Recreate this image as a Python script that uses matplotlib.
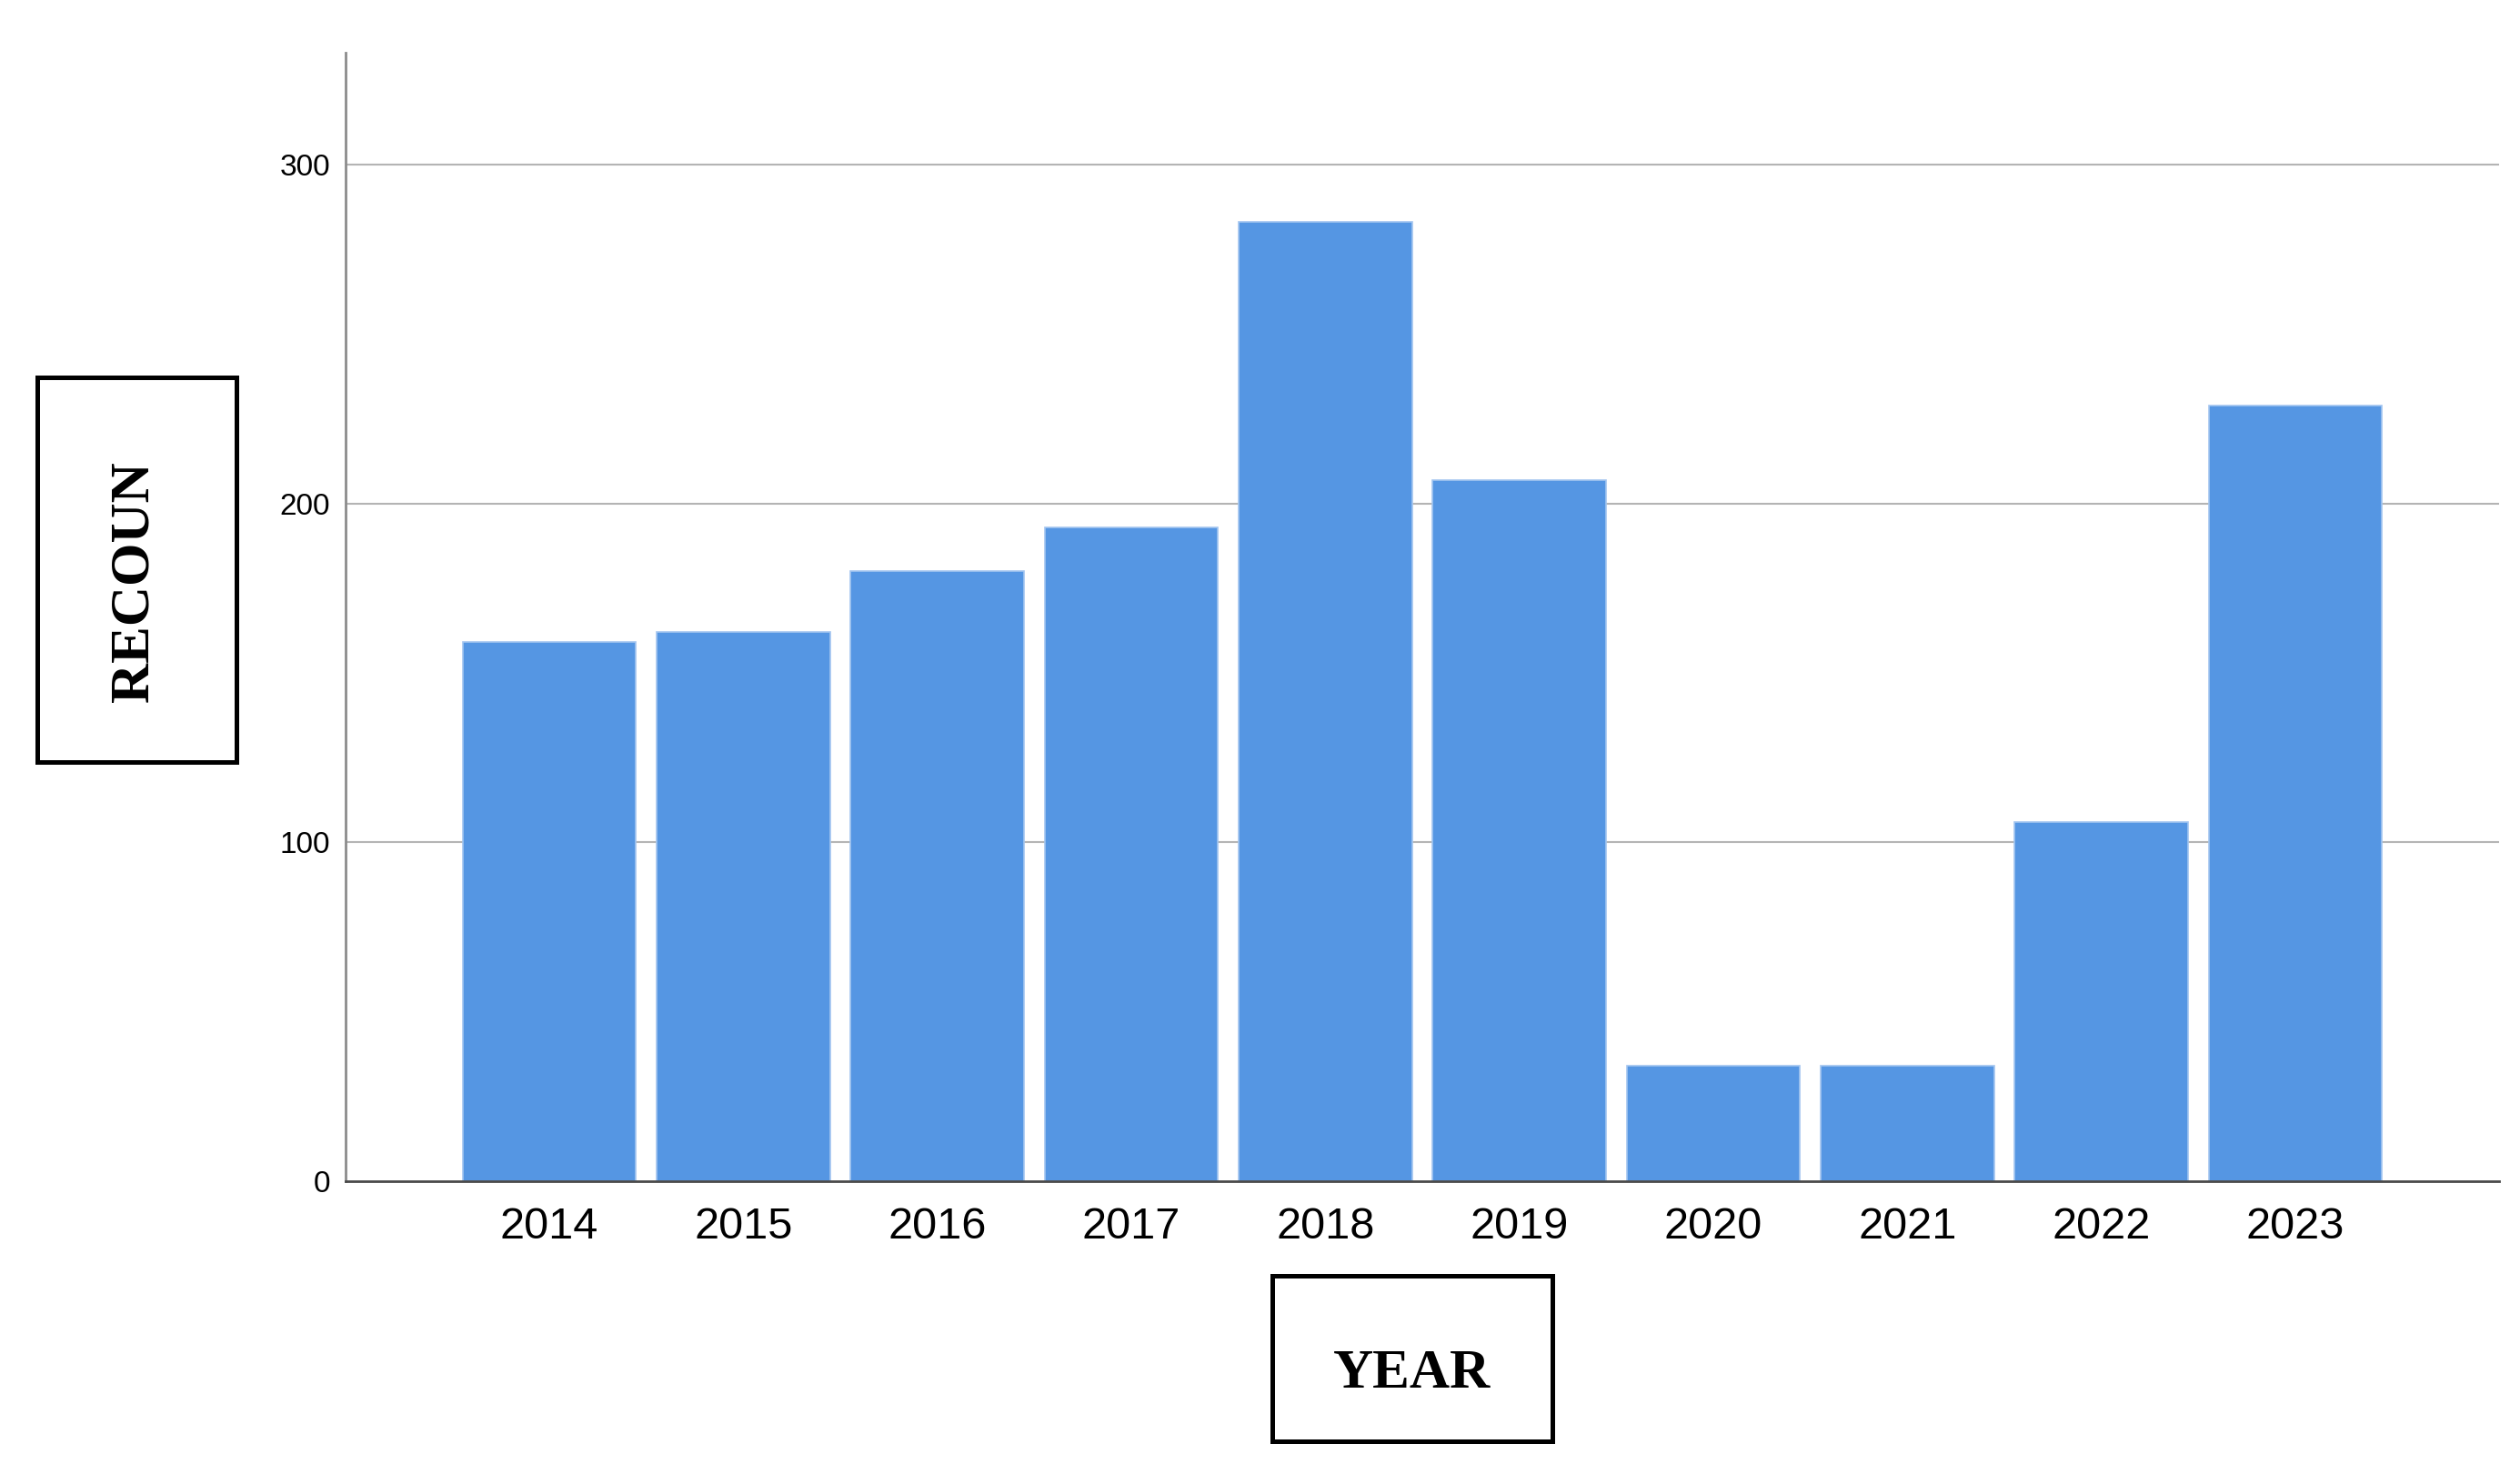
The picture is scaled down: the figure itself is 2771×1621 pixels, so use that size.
import matplotlib
matplotlib.use("Agg")
import matplotlib.pyplot as plt
from matplotlib.patches import Rectangle

years = ["2014", "2015", "2016", "2017", "2018", "2019", "2020", "2021", "2022", "2023"]
counts = [159, 162, 180, 193, 283, 207, 34, 34, 106, 229]
yticks = [0, 100, 200, 300]

W, H = 2771, 1621
fig = plt.figure(figsize=(W / 100, H / 100), dpi=100)
ax = fig.add_axes([380 / W, 1 - 1299 / H, (2748 - 380) / W, (1299 - 58) / H])

x = list(range(len(years)))
ax.bar(x, counts, width=0.895, color="#5596e3", edgecolor="#a3c5f0", linewidth=1.2, zorder=3)

ax.set_xlim(-1.05, len(years) - 1 + 1.05)
ax.set_ylim(0, 333)
ax.set_yticks(yticks)
ax.set_yticklabels([str(v) for v in yticks], fontsize=24, family="Liberation Sans")
ax.set_xticks(x)
ax.set_xticklabels(years, fontsize=35, family="Liberation Sans")
ax.tick_params(axis="y", length=0, pad=12)
ax.tick_params(axis="x", length=0, pad=20)

for v in yticks[1:]:
    ax.axhline(v, color="#b4b4b4", linewidth=1.5, zorder=1)

for s in ["top", "right"]:
    ax.spines[s].set_visible(False)
ax.spines["left"].set_color("#8c8c8c")
ax.spines["left"].set_linewidth(2)
ax.spines["bottom"].set_color("#4a4a4a")
ax.spines["bottom"].set_linewidth(2)
ax.spines["bottom"].set_zorder(4)

# Axis title boxes
def box(x0, y0, x1, y1):
    r = Rectangle((x0 / W, 1 - y1 / H), (x1 - x0) / W, (y1 - y0) / H,
                  transform=fig.transFigure, fill=False, edgecolor="black",
                  linewidth=3.6, joinstyle="miter")
    fig.patches.append(r)

box(41, 415, 260, 838)
fig.text(148 / W, 1 - 640 / H, "RECOUN", rotation=90, ha="center", va="center",
         fontsize=44, fontweight="bold", family="Liberation Serif")

box(1399, 1403, 1707, 1585)
fig.text(1553 / W, 1 - 1511 / H, "YEAR", ha="center", va="center",
         fontsize=44, fontweight="bold", family="Liberation Serif")

fig.savefig("out.png", dpi=100, facecolor="white")
